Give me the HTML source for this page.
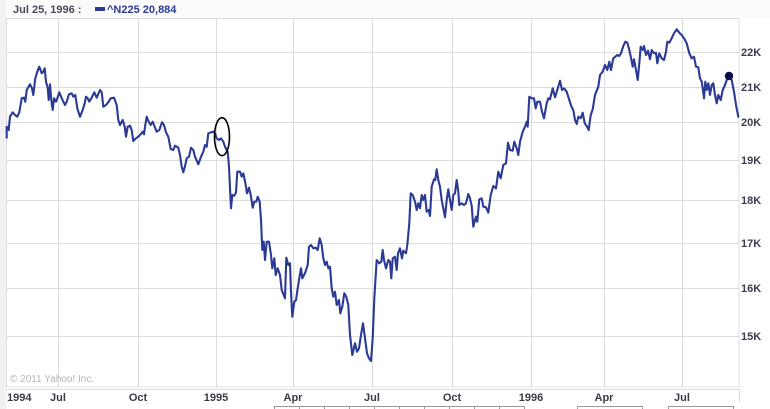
<!DOCTYPE html>
<html>
<head>
<meta charset="utf-8">
<style>
html,body{margin:0;padding:0;background:#fff;}
svg{display:block;}
text{font-family:"Liberation Sans",Arial,sans-serif;}
</style>
</head>
<body>
<svg width="770" height="409" viewBox="0 0 770 409" xmlns="http://www.w3.org/2000/svg">
<rect x="0" y="0" width="770" height="409" fill="#ffffff"/>
<rect x="0" y="0" width="6" height="409" fill="#f1f1f1"/>
<rect x="6" y="0" width="764" height="18" fill="#fbfbfb"/>
<!-- header -->
<text x="13" y="13" font-size="11" font-weight="bold" fill="#4a4a5c">Jul 25, 1996 :</text>
<rect x="95" y="7" width="10" height="4" fill="#2b3b95"/>
<text x="107" y="13" font-size="11" font-weight="bold" fill="#2b3b95">^N225  20,884</text>
<!-- plot frame -->
<rect x="6.5" y="18.5" width="732.5" height="368.5" fill="#ffffff" stroke="#dcdcdc" stroke-width="1"/>
<!-- vertical grid -->
<g stroke="#dcdcdc" stroke-width="1">
<line x1="58.5" y1="18" x2="58.5" y2="387"/>
<line x1="138.5" y1="18" x2="138.5" y2="387"/>
<line x1="216.5" y1="18" x2="216.5" y2="387"/>
<line x1="293.5" y1="18" x2="293.5" y2="387"/>
<line x1="372.5" y1="18" x2="372.5" y2="387"/>
<line x1="452.5" y1="18" x2="452.5" y2="387"/>
<line x1="531.5" y1="18" x2="531.5" y2="387"/>
<line x1="604.5" y1="18" x2="604.5" y2="387"/>
<line x1="682.5" y1="18" x2="682.5" y2="387"/>
<!-- horizontal grid -->
<line x1="6" y1="52.5" x2="739" y2="52.5"/>
<line x1="6" y1="87.5" x2="739" y2="87.5"/>
<line x1="6" y1="122.5" x2="739" y2="122.5"/>
<line x1="6" y1="160.5" x2="739" y2="160.5"/>
<line x1="6" y1="200.5" x2="739" y2="200.5"/>
<line x1="6" y1="243.5" x2="739" y2="243.5"/>
<line x1="6" y1="288.5" x2="739" y2="288.5"/>
<line x1="6" y1="336.5" x2="739" y2="336.5"/>
<!-- bottom axis strip -->
<line x1="6" y1="389.5" x2="739" y2="389.5"/>
<line x1="739.5" y1="389" x2="739.5" y2="402"/>
</g>
<!-- right axis labels -->
<g font-size="11" font-weight="bold" fill="#3c3c50">
<text x="741" y="56">22K</text>
<text x="741" y="91">21K</text>
<text x="741" y="126">20K</text>
<text x="741" y="164">19K</text>
<text x="741" y="204">18K</text>
<text x="741" y="247">17K</text>
<text x="741" y="292">16K</text>
<text x="741" y="340">15K</text>
</g>
<!-- bottom labels -->
<g font-size="11" font-weight="bold" fill="#3a3a48">
<text x="7" y="401">1994</text>
<text x="58" y="401" text-anchor="middle">Jul</text>
<text x="138" y="401" text-anchor="middle">Oct</text>
<text x="216" y="401" text-anchor="middle">1995</text>
<text x="293" y="401" text-anchor="middle">Apr</text>
<text x="372" y="401" text-anchor="middle">Jul</text>
<text x="452" y="401" text-anchor="middle">Oct</text>
<text x="531" y="401" text-anchor="middle">1996</text>
<text x="604" y="401" text-anchor="middle">Apr</text>
<text x="682" y="401" text-anchor="middle">Jul</text>
</g>
<text x="10" y="382" font-size="10" fill="#b4b4b4">© 2011 Yahoo! Inc.</text>
<!-- bottom boxes -->
<g stroke="#9a9a9a" stroke-width="1" fill="none">
<path d="M274.5,409 V406.5 H524.5 V409"/>
<line x1="299.5" y1="406" x2="299.5" y2="409"/>
<line x1="324.5" y1="406" x2="324.5" y2="409"/>
<line x1="349.5" y1="406" x2="349.5" y2="409"/>
<line x1="374.5" y1="406" x2="374.5" y2="409"/>
<line x1="399.5" y1="406" x2="399.5" y2="409"/>
<line x1="424.5" y1="406" x2="424.5" y2="409"/>
<line x1="449.5" y1="406" x2="449.5" y2="409"/>
<line x1="474.5" y1="406" x2="474.5" y2="409"/>
<line x1="499.5" y1="406" x2="499.5" y2="409"/>
<path d="M577.5,409 V406.5 H642.5 V409"/>
<path d="M668.5,409 V406.5 H733.5 V409"/>
</g>
<!-- series -->
<polyline fill="none" stroke="#2b3b95" stroke-width="2.1" stroke-linejoin="round" stroke-linecap="round" points="6.7,137.7 6.7,126.7 8.7,130 10,116.7 12.7,112.3 15,115 17.3,116.7 19.3,112.3 21.7,98.3 24,97.7 25.3,101.7 26.7,90 30,84.3 32,88.3 33.3,95 35.3,78.3 37.3,71.7 39.3,66.7 41.7,73.3 43.3,71.7 44.7,68.3 46,81.7 47.7,87.7 48.7,100 50,84.3 51.3,100 52.7,110 54,98.3 56,101.7 57.3,98.3 59.3,92.3 61.7,98.3 65,105 66.7,101.7 69,94.3 71.7,93.3 73.3,96.7 75.3,95 77.3,108.3 80,116.7 82.7,110 84.7,103.3 86,96.7 87.7,98.3 89.3,101.7 91.7,97.7 94.3,92.3 96.7,97.7 100,90 101.7,92.3 103.3,106.7 106,105 108.7,101.7 110.7,98.3 114,97.7 116.7,105 118.3,120 120,125 122.7,120 124.7,126.7 126,136.7 127.7,126.7 130,125.7 131.7,130 133.3,141 136,138.3 138.3,136.7 140,135 142.7,131.7 144,134.3 145.3,125 146.7,116.7 148.7,121.7 150.7,125 152.7,121.7 154,125 156.7,131.7 159.3,130 162,122.3 164,125 166,132.3 168.3,136.7 170.7,149 173.3,150 175,145.7 178.3,147.7 180,155 181.7,166.7 183.3,172.3 185.3,165 186.7,158.3 189,156.7 191,147.7 193.3,150 195,156.7 198.3,164.3 201,156.7 203.3,151.7 205,145 206.7,146.7 208.3,133.3 211,132.3 213.3,131.7 215,133.3 216.7,138.3 219,140 221,138.3 223.3,141.7 225,146.7 227.7,151.7 229,166.7 230,188.3 231,208.3 232.3,195 234.3,195.7 236,192.3 237.3,171.7 240,171.7 241.7,176.7 243.3,173.3 245.7,185 247,193.3 249,187.7 250.7,195 252.7,207.7 254.3,201.7 256.3,201.7 257.7,196.7 259.7,201.7 261,220 262.3,250 263.7,241.7 265,260 266.7,241.7 269,241.7 271,255 272.3,268.3 274.3,258.3 275.7,275 277.7,268.3 280,275 281.7,290 283.7,295 285,298.3 286.3,257.7 288.3,265 290,263.3 291,291.7 292.3,316.7 294.3,301.7 296,300 297.7,288.3 299,280 301,268.3 302.3,278.3 305,273.3 307.7,265 309,246.7 311,245 313.3,248.3 315.7,247.7 317.7,250 319.7,238.3 321.7,245 323.3,258.3 325,265 326.7,261.7 328.3,268.3 330,266.7 331.7,288.3 333.3,296.7 335,291.7 336.7,305 339,300 340.3,313.3 342.3,306.7 344.3,293.3 346.3,296.7 348.3,305 350,335 352.3,355 355,343.3 357,351.7 359,348.3 361,335 363,323.3 365,338.3 367,353.3 369,358.3 371,361 372.7,338.3 374.3,298.3 376.7,260 379.3,263.3 381.3,261.7 382.7,250 384,260 386,268.3 388.3,260 390,261.7 391.3,278.3 392.7,258.3 395,256.7 396.7,270 398,253.3 400,248.3 402,258.3 403.3,250.7 406,253.3 407.3,245 409.3,223.3 410.7,193.3 412.7,195 415,201.7 416.7,210 418.3,203.3 420,208.3 421.7,195 423.3,200 425,195 426.7,211.7 428.7,210 430,216 431.7,186.7 434,179.3 435.3,180 436.7,169.3 438.3,180 440,186.7 441.7,200 443.3,208.3 445,217.3 446.7,200 448.3,189.3 450,200 451.7,210 453.3,195 455,193.3 456.7,180 458.3,191.7 459.3,205 461.7,203.3 464,205 466,203.3 468.3,194 470,198.3 471.7,206 473.3,226.7 476,216.7 477.3,221.7 479.3,199.3 481.7,198.3 483.3,206.7 486,207.3 488.3,212.7 490.7,195 493.3,186 496,188.3 498.3,171.7 500.7,178.3 503.3,165 506,163.3 508,142.7 510,150 512.7,150.7 514.3,141.7 516.7,148.3 518.3,155 520,141.7 522.7,131.7 525,126.7 526.7,121.7 527.7,126.7 529.3,96.7 531.7,98.3 534,98.3 535.7,108.3 537.3,101.7 540,101.7 542,111.7 544,118.3 546.7,103.3 548.3,98.3 550,99.3 552.7,88.3 555,97.3 557.3,90 560,80.7 562,90 564,88.3 566.7,91.7 569.3,100 571.7,107.3 573.3,110 575,120 576.7,124 578.3,116.7 580.7,118.3 582.7,112.7 584.7,123.3 586.7,126 588.7,130 590.7,115 592.7,109.3 595,95 598.3,86.7 600,75 602.7,71.7 605,65 607.3,70 609.3,61.7 611,70 613.3,58.3 615.3,56.7 617.3,55 619.3,56 621,53.3 623.3,46 625.3,41.7 627.3,42.7 629.3,50 631.3,59.3 632.7,66.7 634,59.3 636,70 637.7,80 639.3,63.3 640.7,46.7 642.7,50 644,46 646,55 648,50.7 650,59.3 651.7,50 654,53.3 656,52.7 657.3,63.3 659.3,53.3 661.7,58.3 664,60 666,51.7 667.3,41.7 669.3,42.7 671.7,38.3 674,33.3 676.7,29.3 679.3,32.7 681.7,35 684,38.3 686.7,43.3 689.3,53.3 691.7,58.3 694,56.7 696,66.7 698.3,67.3 700,78.3 701.7,81.7 702.7,88.3 704,98.3 705.3,81.7 706.7,90 708.3,83.3 710,95 711.7,85 713.3,83.3 715,95 716.7,103.3 718.3,95 720.7,100 722.7,90 725,85 726.7,80 729,76 731.7,80 734,91.7 736,105 738.3,116.7"/>
<!-- marker -->
<circle cx="729" cy="76" r="4.2" fill="#0a0f4a"/>
<!-- annotation ellipse -->
<ellipse cx="222" cy="136.7" rx="7.5" ry="19" fill="none" stroke="#000" stroke-width="1.6"/>
</svg>
</body>
</html>
